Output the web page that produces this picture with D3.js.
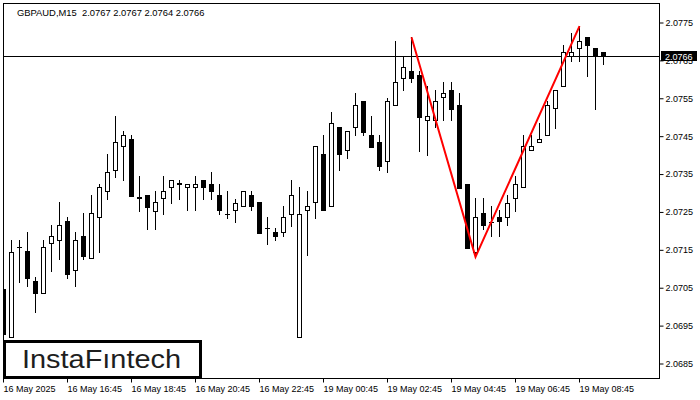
<!DOCTYPE html>
<html><head><meta charset="utf-8">
<script src="https://cdn.jsdelivr.net/npm/d3@7"></script>
<style>
body{margin:0;background:#fff}
svg{display:block}
text{font-family:"Liberation Sans",Arial,sans-serif}
</style>
</head><body>
<svg id="c" width="700" height="400"></svg>
<script>
const titleText = "GBPAUD,M15  2.0767 2.0767 2.0764 2.0766";
const openP = [2.07046,2.06919,2.07157,2.07146,2.07067,2.07035,2.07167,2.07175,2.07225,2.07096,
2.07185,2.07127,2.07235,2.07304,2.07360,2.07423,2.07441,2.07287,2.07294,2.07251,
2.07286,2.07315,2.07324,2.07315,2.07315,2.07333,2.07323,2.07294,2.07244,2.07254,
2.07265,2.07294,2.07275,2.07207,2.07196,2.07196,2.07243,2.06919,2.07254,2.07275,
2.07402,2.07265,2.07473,2.07412,2.07473,2.07542,2.07452,2.07433,2.07383,2.07531,
2.07602,2.07621,2.07610,2.07491,2.07491,2.07552,2.07571,2.07531,2.07323,2.07143,
2.07246,2.07223,2.07235,2.07235,2.07286,2.07315,2.07412,2.07433,2.07452,2.07523,
2.07581,2.07660,2.07681,2.07710,2.07681,2.0767];
const highP = [2.07067,2.07175,2.07175,2.07196,2.07077,2.07175,2.07214,2.07275,2.07235,2.07196,
2.07246,2.07294,2.07323,2.07402,2.07502,2.07462,2.07452,2.07344,2.07294,2.07304,
2.07344,2.07333,2.07333,2.07323,2.07344,2.07333,2.07354,2.07323,2.07304,2.07283,
2.07304,2.07304,2.07275,2.07235,2.07206,2.07265,2.07333,2.07315,2.07304,2.07423,
2.07452,2.07513,2.07473,2.07462,2.07563,2.07542,2.07502,2.07452,2.07549,2.07700,
2.07660,2.07710,2.07621,2.07581,2.07571,2.07592,2.07592,2.07563,2.07323,2.07286,
2.07286,2.07265,2.07254,2.07294,2.07344,2.07452,2.07452,2.07484,2.07542,2.07571,
2.07689,2.07721,2.07739,2.07710,2.07681,2.0767];
const lowP = [2.06924,2.06919,2.07064,2.07053,2.06985,2.07035,2.07093,2.07125,2.07075,2.07053,
2.07125,2.07127,2.07143,2.07283,2.07341,2.07333,2.07291,2.07251,2.07204,2.07204,
2.07243,2.07272,2.07283,2.07254,2.07254,2.07283,2.07283,2.07243,2.07233,2.07222,
2.07265,2.07254,2.07193,2.07164,2.07175,2.07185,2.07212,2.06919,2.07135,2.07233,
2.07254,2.07265,2.07360,2.07391,2.07452,2.07452,2.07420,2.07360,2.07354,2.07531,
2.07571,2.07592,2.07410,2.07399,2.07473,2.07491,2.07491,2.07312,2.07154,2.07130,
2.07204,2.07185,2.07185,2.07214,2.07251,2.07315,2.07412,2.07433,2.07452,2.07470,
2.07581,2.07647,2.07647,2.07608,2.07520,2.0764];
const closeP = [2.06927,2.07143,2.07156,2.07075,2.07035,2.07156,2.07185,2.07214,2.07085,2.07175,
2.07133,2.07246,2.07315,2.07354,2.07433,2.07452,2.07291,2.07286,2.07262,2.07275,
2.07304,2.07333,2.07323,2.07323,2.07323,2.07315,2.07304,2.07254,2.07243,2.07272,
2.07304,2.07265,2.07193,2.07206,2.07185,2.07235,2.07294,2.07243,2.07265,2.07423,
2.07254,2.07484,2.07402,2.07462,2.07531,2.07460,2.07420,2.07370,2.07542,2.07592,
2.07631,2.07602,2.07499,2.07502,2.07542,2.07563,2.07520,2.07312,2.07154,2.07235,
2.07214,2.07222,2.07225,2.07272,2.07323,2.07423,2.07423,2.07441,2.07531,2.07571,
2.07671,2.07671,2.07700,2.07689,2.07660,2.0766];
const xTickIdx = [0,8,16,24,32,40,48,56,64,72];
const xTickLabels = ["16 May 2025","16 May 16:45","16 May 18:45","16 May 20:45","16 May 22:45",
"19 May 00:45","19 May 02:45","19 May 04:45","19 May 06:45","19 May 08:45"];
const yTicks = [2.0685,2.0695,2.0705,2.0715,2.0725,2.0735,2.0745,2.0755,2.0765,2.0775];
const patternIdx = [51,59,72];
const patternPrice = [2.07710,2.07130,2.07739];
const lastPrice = 2.0766;
const logoText = "InstaFıntech";

const svg = d3.select("#c");
const L = 3, R = 659, T = 3, B = 378;
const x = d3.scaleLinear().domain([0, 75]).range([3.5, 603.5]);
const y = d3.scaleLinear().domain([2.0685, 2.0775]).range([363, 22]);

svg.append("defs").append("clipPath").attr("id","plot")
  .append("rect").attr("x",L).attr("y",T).attr("width",R-L).attr("height",B-T);

// title
svg.append("text").attr("x",17).attr("y",16).attr("font-size","9.4px")
  .attr("fill","#000").style("white-space","pre").text(titleText);

const g = svg.append("g").attr("clip-path","url(#plot)");

// price line
const py = Math.round(y(lastPrice)) + 0.5;
g.append("line").attr("x1",L).attr("x2",R).attr("y1",py).attr("y2",py)
  .attr("stroke","#000").attr("stroke-width",1);

const data = openP.map((o,i)=>({i,o,h:highP[i],l:lowP[i],c:closeP[i]}));
const cg = g.append("g");
data.forEach(d=>{
  const col = Math.round(x(d.i) - 0.5);
  const yh = Math.round(y(d.h)), yl = Math.round(y(d.l));
  const top = Math.round(y(Math.max(d.o,d.c))), bot = Math.round(y(Math.min(d.o,d.c)));
  cg.append("line").attr("x1",col+0.5).attr("x2",col+0.5).attr("y1",yh).attr("y2",yl+1)
    .attr("stroke","#000").attr("stroke-width",1);
  if (bot - top < 1) {
    cg.append("line").attr("x1",col-2).attr("x2",col+3).attr("y1",top+0.5).attr("y2",top+0.5)
      .attr("stroke","#000").attr("stroke-width",1);
  } else if (d.c >= d.o) {
    cg.append("rect").attr("x",col-1.5).attr("y",top+0.5).attr("width",4).attr("height",bot-top)
      .attr("fill","#fff").attr("stroke","#000").attr("stroke-width",1);
  } else {
    cg.append("rect").attr("x",col-2).attr("y",top).attr("width",5).attr("height",bot-top+1)
      .attr("fill","#000");
  }
});

// pattern line
const pts = patternIdx.map((k,j)=>[x(k), y(patternPrice[j])]);
g.append("path").attr("d", d3.line()(pts)).attr("fill","none")
  .attr("stroke","#ff0000").attr("stroke-width",2);

// frame
svg.append("rect").attr("x",L+0.5).attr("y",T+0.5).attr("width",R-L).attr("height",B-T)
  .attr("fill","none").attr("stroke","#000").attr("stroke-width",1);

// right axis
const ya = svg.append("g").attr("transform",`translate(${R+0.5},0.5)`)
  .call(d3.axisRight(y).tickValues(yTicks).tickFormat(d3.format(".4f")).tickSize(4).tickPadding(2));
ya.select(".domain").remove();
ya.selectAll("text").attr("font-size","9px").attr("font-family","Liberation Sans, Arial, sans-serif").attr("fill","#000");
ya.selectAll("line").attr("stroke","#000");

// last price label
svg.append("rect").attr("x",661).attr("y",Math.round(y(lastPrice))-5).attr("width",36).attr("height",10).attr("fill","#000");
svg.append("text").attr("x",665).attr("y",Math.round(y(lastPrice))+3.5).attr("font-size","9px")
  .attr("fill","#fff").text(d3.format(".4f")(lastPrice));

// bottom axis
const xa = svg.append("g").attr("transform",`translate(0,${B+0.5})`)
  .call(d3.axisBottom(x).tickValues(xTickIdx).tickFormat((d,i)=>xTickLabels[i]).tickSize(4).tickPadding(3));
xa.select(".domain").remove();
xa.selectAll("line").attr("stroke","#000").attr("transform","translate(-0.5,0)");
xa.selectAll("text").attr("text-anchor","start").attr("x",-0.5).attr("font-size","9px")
  .attr("font-family","Liberation Sans, Arial, sans-serif").attr("fill","#000");

// logo
svg.append("rect").attr("x",4.5).attr("y",341.5).attr("width",196).attr("height",36)
  .attr("fill","#fff").attr("stroke","#000").attr("stroke-width",3);
svg.append("text").attr("x",22).attr("y",368).attr("font-size","25px")
  .attr("font-family","Inter, Lato, sans-serif").attr("font-weight",500)
  .attr("fill","#1e1e1e").attr("textLength",159).attr("lengthAdjust","spacingAndGlyphs")
  .text(logoText);
</script>
</body></html>
